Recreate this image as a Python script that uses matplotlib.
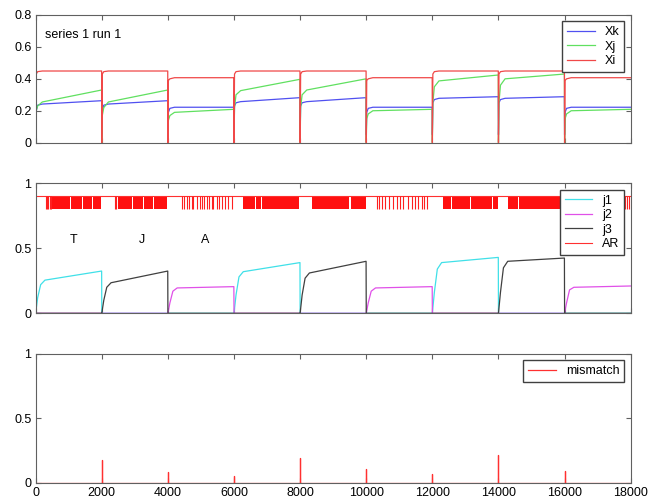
import numpy as np
import matplotlib.pyplot as plt

plt.rcParams['font.family'] = ['Liberation Sans', 'DejaVu Sans']

# segments of the run, 2000 steps each
seg_starts = [0, 2000, 4000, 6000, 8000, 10000, 12000, 14000, 16000]
seg_labels = ['T', 'J', 'A', 'T', 'J', 'A', 'T', 'J', 'A']

# top panel: key points inside each segment
top_offsets = [0, 15, 60, 200, 1995]
xk_vals = [
    [0.05, 0.20, 0.235, 0.242, 0.263],
    [0.05, 0.20, 0.235, 0.242, 0.263],
    [0.05, 0.19, 0.215, 0.222, 0.222],
    [0.05, 0.23, 0.250, 0.257, 0.282],
    [0.05, 0.23, 0.250, 0.257, 0.282],
    [0.05, 0.19, 0.215, 0.222, 0.222],
    [0.05, 0.25, 0.270, 0.278, 0.288],
    [0.05, 0.25, 0.270, 0.278, 0.288],
    [0.05, 0.19, 0.215, 0.222, 0.222],
]
xj_vals = [
    [0.05, 0.20, 0.23, 0.255, 0.330],
    [0.00, 0.17, 0.22, 0.255, 0.330],
    [0.00, 0.14, 0.17, 0.190, 0.209],
    [0.00, 0.22, 0.30, 0.326, 0.397],
    [0.00, 0.22, 0.30, 0.330, 0.400],
    [0.00, 0.15, 0.18, 0.200, 0.209],
    [0.00, 0.25, 0.35, 0.387, 0.424],
    [0.00, 0.25, 0.36, 0.400, 0.430],
    [0.00, 0.15, 0.18, 0.200, 0.209],
]
xi_vals = [
    [0.0, 0.43, 0.445, 0.449, 0.449],
    [0.0, 0.43, 0.445, 0.449, 0.449],
    [0.0, 0.39, 0.400, 0.407, 0.407],
    [0.0, 0.43, 0.445, 0.449, 0.449],
    [0.0, 0.43, 0.445, 0.449, 0.449],
    [0.0, 0.39, 0.400, 0.407, 0.407],
    [0.0, 0.43, 0.445, 0.449, 0.449],
    [0.0, 0.43, 0.445, 0.449, 0.449],
    [0.0, 0.39, 0.400, 0.407, 0.407],
]

# middle panel: active j curve per segment
mid_offsets = [0, 60, 150, 280, 1995]
j_active_vals = [
    [0.0, 0.12, 0.22, 0.255, 0.325],
    [0.0, 0.10, 0.20, 0.235, 0.325],
    [0.0, 0.08, 0.17, 0.195, 0.205],
    [0.0, 0.14, 0.28, 0.320, 0.390],
    [0.0, 0.14, 0.27, 0.310, 0.400],
    [0.0, 0.08, 0.17, 0.195, 0.205],
    [0.0, 0.16, 0.34, 0.390, 0.430],
    [0.0, 0.16, 0.35, 0.400, 0.425],
    [0.0, 0.08, 0.18, 0.200, 0.210],
]

# AR raster: solid runs and single events
ar_blocks = [
    (500, 1050), (1080, 1400), (1430, 1700), (1730, 1965),
    (2480, 2900), (2930, 3250), (3280, 3550), (3580, 3962),
    (6281, 6320), (6345, 6620), (6650, 6820), (6850, 7975),
    (8349, 9490), (9525, 9992),
    (12311, 12570), (12600, 13150), (13175, 13800), (13830, 13994),
    (14297, 14590), (14620, 15960),
]
ar_events = [
    312, 345, 380, 420, 460, 2400, 2440,
    4415, 4486, 4566, 4647, 4718, 4768, 4869, 4970, 5020, 5091,
    5171, 5242, 5323, 5373, 5474, 5554, 5625, 5726, 5827, 5927,
    10315, 10386, 10466, 10567, 10698, 10819, 10920, 11021, 11122,
    11253, 11374, 11474, 11575, 11676, 11746, 11827,
    16350, 16500, 16640, 16800, 16950, 17100, 17260, 17400, 17560,
    17700, 17830, 17880, 17950,
]

# bottom panel: mismatch spikes
mismatch_x = [2000, 4000, 6000, 8000, 10000, 12000, 14000, 16000]
mismatch_h = [0.18, 0.085, 0.054, 0.19, 0.104, 0.067, 0.215, 0.09]

j_names = {'T': 'j1', 'A': 'j2', 'J': 'j3'}
j_colors = {'j1': '#40e0e8', 'j2': '#e050e8', 'j3': '#404040'}


def seg_series(offsets, vals):
    x = np.concatenate([s + np.array(offsets) for s in seg_starts])
    y = np.concatenate([np.array(v) for v in vals])
    return x, y


def style(ax, labels=False):
    for sp in ax.spines.values():
        sp.set_color('#606060')
        sp.set_linewidth(0.8)
    ax.tick_params(direction='in', top=True, right=True, length=3.5,
                   width=0.8, color='#606060', labelsize=9, pad=3,
                   labelbottom=labels)
    ax.set_xlim(0, 18000)
    ax.set_xticks(range(0, 18001, 2000))


def legend(ax):
    ax.legend(loc='upper right', fancybox=False, edgecolor='#404040',
              framealpha=1, fontsize=9, borderaxespad=0.5,
              handlelength=2.2, labelspacing=0.2, borderpad=0.4)


fig = plt.figure(figsize=(6.5, 5.04), dpi=100)
ax1 = fig.add_axes([0.0549, 0.7169, 0.9154, 0.2534])
ax2 = fig.add_axes([0.0549, 0.3784, 0.9154, 0.2579])
ax3 = fig.add_axes([0.0549, 0.0423, 0.9154, 0.2554])

# top
x, y = seg_series(top_offsets, xk_vals)
ax1.plot(x, y, color='#5050f0', lw=0.9, label='Xk')
x, y = seg_series(top_offsets, xj_vals)
ax1.plot(x, y, color='#60e060', lw=0.9, label='Xj')
x, y = seg_series(top_offsets, xi_vals)
ax1.plot(x, y, color='#f04848', lw=0.9, label='Xi')
ax1.set_ylim(0, 0.8)
ax1.set_yticks([0, 0.2, 0.4, 0.6, 0.8])
ax1.set_yticklabels(['0', '0.2', '0.4', '0.6', '0.8'])
ax1.text(280, 0.675, 'series 1 run 1', fontsize=9, va='center')
style(ax1)
legend(ax1)

# middle
for name in ['j1', 'j2', 'j3']:
    vals = [v if j_names[lab] == name else [0] * len(v)
            for v, lab in zip(j_active_vals, seg_labels)]
    x, y = seg_series(mid_offsets, vals)
    ax2.plot(x, y, color=j_colors[name], lw=0.9, label=name)
ax2.plot([0, 18000], [0.9, 0.9], color='#ff3030', lw=0.8, label='AR')
ax2.broken_barh([(a, b - a) for a, b in ar_blocks], (0.8, 0.1),
                color='#ff1010', lw=0)
ax2.vlines(ar_events, 0.8, 0.9, color='#ff2020', lw=0.8)
for lab, xpos in zip(['T', 'J', 'A'], [1138, 3206, 5121]):
    ax2.text(xpos, 0.564, lab, fontsize=9, ha='center', va='center')
ax2.set_ylim(0, 1)
ax2.set_yticks([0, 0.5, 1])
ax2.set_yticklabels(['0', '0.5', '1'])
style(ax2)
legend(ax2)

# bottom
mx = [0]
my = [0]
for s, h in zip(mismatch_x, mismatch_h):
    mx += [s, s, s]
    my += [0, h, 0]
mx.append(18000)
my.append(0)
ax3.plot(mx, my, color='#ff3030', lw=0.9, label='mismatch')
ax3.set_ylim(0, 1)
ax3.set_yticks([0, 0.5, 1])
ax3.set_yticklabels(['0', '0.5', '1'])
style(ax3, labels=True)
legend(ax3)

fig.savefig('out.png', dpi=100)
